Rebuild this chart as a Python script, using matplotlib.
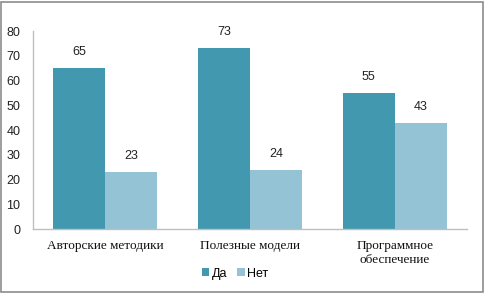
import matplotlib
matplotlib.use("Agg")
import matplotlib.pyplot as plt
import numpy as np

categories = ["Авторские методики", "Полезные модели", "Программное\nобеспечение"]
series_names = ["Да", "Нет"]
da_values = [65, 73, 55]
net_values = [23, 24, 43]
yticks = [0, 10, 20, 30, 40, 50, 60, 70, 80]

colors = ["#4198AF", "#93C3D5"]

fig = plt.figure(figsize=(4.85, 2.93), dpi=100)
ax = fig.add_axes([0.068, 0.218, 0.895, 0.676])

x = np.arange(len(categories))
w = 0.36
b1 = ax.bar(x - w/2, da_values, w, color=colors[0], label=series_names[0])
b2 = ax.bar(x + w/2, net_values, w, color=colors[1], label=series_names[1])

sans = "Liberation Sans"
for bars, vals in ((b1, da_values), (b2, net_values)):
    for r, v in zip(bars, vals):
        ax.text(r.get_x() + r.get_width()/2, v + 4, str(v), ha="center", va="bottom",
                fontsize=9, family=sans, color="#222222")

ax.set_xlim(-0.5, 2.5)
ax.set_ylim(0, 80)
ax.set_yticks(yticks)
ax.set_yticklabels([str(t) for t in yticks], fontsize=9, family=sans, color="#222222")
ax.set_xticks(x)
ax.set_xticklabels(categories, fontsize=9.5, family="Liberation Serif", color="#111111",
                   linespacing=1.15)
ax.tick_params(axis="both", length=0)
ax.tick_params(axis="y", pad=9)
ax.tick_params(axis="x", pad=8)
for s in ("top", "right"):
    ax.spines[s].set_visible(False)
for s in ("left", "bottom"):
    ax.spines[s].set_color("#BFBFBF")
    ax.spines[s].set_linewidth(1)

leg = fig.legend(handles=[b1, b2], labels=series_names, loc="center", bbox_to_anchor=(0.485, 0.066),
                 ncol=2, frameon=False, handlelength=0.6, handleheight=0.6, handletextpad=0.2,
                 columnspacing=0.8, prop={"family": sans, "size": 9})

fig.patches.append(plt.Rectangle((0.002, 0.004), 0.994, 0.99, transform=fig.transFigure,
                                 fill=False, edgecolor="#8C8C8C", linewidth=1.2))

fig.savefig("out.png", dpi=100)
